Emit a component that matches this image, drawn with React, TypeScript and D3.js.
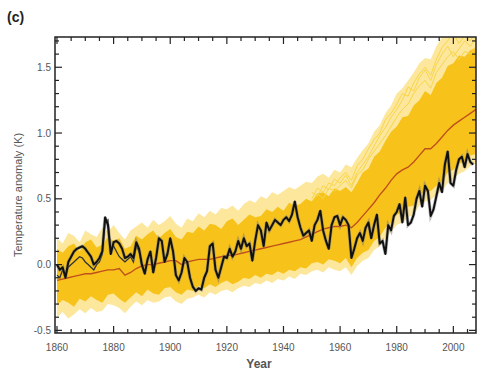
import { useEffect, useRef } from "react";
import * as d3 from "d3";

// observations, annual 1860-2007
const obsStart = 1860;
const obs = [
  0.0, -0.04, -0.02, -0.1, 0.02, 0.06, 0.1, 0.12, 0.13, 0.14,
  0.12, 0.09, 0.06, 0.0, 0.02, 0.05, 0.1, 0.36, 0.3, 0.08,
  0.17, 0.18, 0.16, 0.12, 0.05, 0.06, 0.08, 0.05, 0.17, 0.12,
  0.0, -0.07, 0.04, 0.1, -0.06, 0.05, 0.2, 0.18, 0.02, 0.08,
  0.2, 0.1, -0.08, -0.12, -0.06, 0.05, 0.02, -0.1, -0.17, -0.2,
  -0.18, -0.19, -0.1, -0.05, 0.14, 0.16, -0.04, -0.1, -0.02, 0.06,
  0.05, 0.12, 0.06, 0.1, 0.18, 0.12, 0.2, 0.14, 0.16, 0.03,
  0.18, 0.3, 0.26, 0.14, 0.32, 0.26, 0.3, 0.34, 0.32, 0.3,
  0.34, 0.36, 0.33, 0.38, 0.48, 0.36, 0.28, 0.22, 0.24, 0.26,
  0.18, 0.3, 0.34, 0.41, 0.26, 0.18, 0.12, 0.3, 0.36, 0.37,
  0.3, 0.36, 0.34, 0.3, 0.05, 0.12, 0.2, 0.24, 0.18, 0.28,
  0.32, 0.2, 0.3, 0.38, 0.16, 0.18, 0.08, 0.3, 0.26, 0.37,
  0.4, 0.46, 0.32, 0.51, 0.3, 0.32, 0.38, 0.5, 0.56, 0.44,
  0.6, 0.56, 0.37, 0.42, 0.52, 0.62, 0.55, 0.76, 0.86, 0.62,
  0.6, 0.72, 0.8, 0.82, 0.74, 0.84, 0.78, 0.76,
];

// second observational record, early part where it departs
const obs2 = [
  -0.08, -0.1, -0.04, -0.08, -0.02, 0.0, 0.02, 0.04, 0.06, 0.05,
  0.02, 0.0, -0.02, -0.04, 0.0, 0.02, 0.08, 0.32, 0.34, 0.12,
  0.14, 0.1, 0.06, 0.04, 0.02, 0.04, 0.06, 0.02, 0.14, 0.1,
  -0.02,
];

// model ensemble, every 2 years 1860-2008
const ensStart = 1860;
const ensStep = 2;
const ensMean = [
  -0.12, -0.11, -0.1, -0.09, -0.08, -0.07, -0.07, -0.06, -0.05, -0.04,
  -0.04, -0.03, -0.08, -0.06, -0.03, -0.01, 0.0, 0.0, 0.01, 0.02,
  0.03, 0.03, 0.0, 0.02, 0.03, 0.04, 0.04, 0.04, 0.05, 0.06,
  0.07, 0.07, 0.08, 0.09, 0.1, 0.11, 0.12, 0.13, 0.14, 0.15,
  0.16, 0.17, 0.18, 0.19, 0.21, 0.23, 0.25, 0.27, 0.28, 0.29,
  0.29, 0.3, 0.28, 0.32, 0.37, 0.42, 0.47, 0.53, 0.58, 0.64,
  0.69, 0.72, 0.74, 0.78, 0.83, 0.88, 0.88, 0.92, 0.97, 1.02,
  1.06, 1.09, 1.12, 1.15, 1.18,
];
const bandHigh = [
  0.12, 0.09, 0.14, 0.16, 0.1, 0.17, 0.19, 0.13, 0.15, 0.21,
  0.18, 0.2, 0.12, 0.14, 0.22, 0.19, 0.23, 0.26, 0.2, 0.24,
  0.27, 0.21, 0.19, 0.25, 0.24, 0.29, 0.26, 0.31, 0.3, 0.27,
  0.33, 0.35, 0.3, 0.34, 0.38, 0.36, 0.37, 0.42, 0.4, 0.44,
  0.41, 0.47, 0.45, 0.46, 0.5, 0.48, 0.54, 0.55, 0.52, 0.58,
  0.56, 0.59, 0.55, 0.62, 0.7, 0.73, 0.82, 0.86, 0.94, 1.01,
  1.05, 1.12, 1.13, 1.21, 1.25, 1.32, 1.29, 1.38, 1.42, 1.51,
  1.53, 1.59, 1.58, 1.63, 1.65,
];
const bandLow = [
  -0.31, -0.27, -0.29, -0.32, -0.26, -0.28, -0.24, -0.27, -0.29, -0.23,
  -0.22, -0.26, -0.29, -0.25, -0.21, -0.24, -0.19, -0.22, -0.23, -0.18,
  -0.17, -0.21, -0.23, -0.19, -0.2, -0.16, -0.18, -0.15, -0.17, -0.14,
  -0.12, -0.15, -0.13, -0.1, -0.11, -0.08, -0.1, -0.07, -0.08, -0.05,
  -0.07, -0.04, -0.05, -0.02, -0.03, 0.01, 0.02, 0.0, 0.04, 0.03,
  0.01, 0.05, -0.02, 0.05, 0.09, 0.11, 0.18, 0.21, 0.28, 0.32,
  0.38, 0.39, 0.44, 0.45, 0.53, 0.55, 0.56, 0.6, 0.63, 0.7,
  0.72, 0.77, 0.78, 0.83, 0.84,
];
const envHigh = [
  0.2, 0.16, 0.24, 0.22, 0.17, 0.26, 0.23, 0.21, 0.28, 0.25,
  0.3, 0.24, 0.19, 0.26, 0.29, 0.32, 0.28, 0.34, 0.3, 0.33,
  0.37, 0.31, 0.28, 0.35, 0.33, 0.39, 0.36, 0.41, 0.38, 0.43,
  0.42, 0.45, 0.41, 0.46, 0.49, 0.47, 0.52, 0.5, 0.55, 0.53,
  0.56, 0.59, 0.57, 0.6, 0.63, 0.62, 0.67, 0.69, 0.66, 0.72,
  0.7, 0.76, 0.74, 0.81, 0.87, 0.92, 1.01, 1.06, 1.15, 1.21,
  1.3, 1.34, 1.4, 1.46, 1.53, 1.57, 1.56, 1.66, 1.73, 1.8,
  1.84, 1.8, 1.85, 1.82, 1.86,
];
const envLow = [
  -0.4, -0.36, -0.41, -0.38, -0.34, -0.37, -0.33, -0.36, -0.35, -0.3,
  -0.31, -0.33, -0.37, -0.32, -0.28, -0.31, -0.27, -0.29, -0.28, -0.25,
  -0.24, -0.28, -0.3, -0.26, -0.25, -0.23, -0.25, -0.21, -0.23, -0.2,
  -0.19, -0.21, -0.18, -0.16, -0.17, -0.14, -0.15, -0.12, -0.14, -0.11,
  -0.12, -0.09, -0.11, -0.07, -0.08, -0.05, -0.04, -0.06, -0.02, -0.04,
  -0.05, -0.02, -0.08, -0.01, 0.03, 0.05, 0.11, 0.14, 0.2, 0.25,
  0.3, 0.32, 0.36, 0.38, 0.45, 0.48, 0.49, 0.53, 0.56, 0.62,
  0.65, 0.69, 0.71, 0.75, 0.77,
];

// a few single runs that stick out above the band, 1950-2008
const runStart = 1950;
const runA = [0.5, 0.58, 0.55, 0.62, 0.6, 0.66, 0.7, 0.64, 0.75, 0.8, 0.88, 0.95, 1.0, 1.1, 1.15, 1.22, 1.3, 1.28, 1.38, 1.45, 1.5, 1.44, 1.56, 1.65, 1.7, 1.76, 1.68, 1.74, 1.7, 1.78];
const runB = [0.55, 0.52, 0.6, 0.57, 0.65, 0.62, 0.68, 0.6, 0.7, 0.76, 0.82, 0.9, 0.98, 1.04, 1.12, 1.18, 1.25, 1.35, 1.32, 1.42, 1.48, 1.4, 1.52, 1.6, 1.66, 1.58, 1.64, 1.7, 1.66, 1.72];
const runC = [0.48, 0.54, 0.5, 0.58, 0.56, 0.6, 0.64, 0.58, 0.68, 0.72, 0.8, 0.86, 0.92, 0.98, 1.05, 1.12, 1.18, 1.22, 1.3, 1.36, 1.4, 1.34, 1.46, 1.52, 1.58, 1.62, 1.56, 1.62, 1.6, 1.65];

const xLabels = [1860, 1880, 1900, 1920, 1940, 1960, 1980, 2000];
const yLabels = [-0.5, 0.0, 0.5, 1.0, 1.5];

export default function App() {
  const svgRef = useRef<SVGSVGElement>(null);

  useEffect(() => {
    if (!svgRef.current) return;
    const svg = d3.select(svgRef.current);
    svg.selectAll("*").remove();

    const left = 55, right = 476, top = 37, bottom = 333;
    const x = d3.scaleLinear().domain([1859.3, 2008]).range([left, right]);
    const y = d3.scaleLinear().domain([-0.52, 1.73]).range([bottom, top]);

    svg.append("defs").append("clipPath").attr("id", "plotclip")
      .append("rect").attr("x", left).attr("y", top)
      .attr("width", right - left).attr("height", bottom - top);

    const g = svg.append("g").attr("clip-path", "url(#plotclip)");

    const ensYear = (i: number) => ensStart + i * ensStep;

    const envArea = d3.area<number>()
      .x((_, i) => x(ensYear(i)))
      .y0((_, i) => y(envLow[i]))
      .y1(d => y(d));
    g.append("path").attr("d", envArea(envHigh))
      .attr("fill", "#fbe38c").attr("opacity", 0.85);

    const bandArea = d3.area<number>()
      .x((_, i) => x(ensYear(i)))
      .y0((_, i) => y(bandLow[i]))
      .y1(d => y(d));
    g.append("path").attr("d", bandArea(bandHigh)).attr("fill", "#f7c31a");

    const runLine = d3.line<number>()
      .x((_, i) => x(runStart + i * 2))
      .y(d => y(d));
    [runA, runB, runC].forEach(r => {
      g.append("path").attr("d", runLine(r))
        .attr("fill", "none").attr("stroke", "#f8d54a").attr("stroke-width", 1);
    });

    const meanLine = d3.line<number>()
      .x((_, i) => x(ensYear(i)))
      .y(d => y(d));
    g.append("path").attr("d", meanLine(ensMean))
      .attr("fill", "none").attr("stroke", "#c0501c").attr("stroke-width", 1.4);

    const obsLine = d3.line<number>()
      .x((_, i) => x(obsStart + i))
      .y(d => y(d));
    g.append("path").attr("d", obsLine(obs2))
      .attr("fill", "none").attr("stroke", "#333").attr("stroke-width", 1.3);
    g.append("path").attr("d", obsLine(obs))
      .attr("fill", "none").attr("stroke", "#777").attr("stroke-width", 3.4).attr("opacity", 0.5);
    g.append("path").attr("d", obsLine(obs))
      .attr("fill", "none").attr("stroke", "#111").attr("stroke-width", 2)
      .attr("stroke-linejoin", "round");

    // frame
    svg.append("rect").attr("x", left).attr("y", top)
      .attr("width", right - left).attr("height", bottom - top)
      .attr("fill", "none").attr("stroke", "#222").attr("stroke-width", 1.5);

    const ax = svg.append("g").attr("stroke", "#222").attr("stroke-width", 1.2);
    d3.range(1860, 2009, 5).forEach(yr => {
      const len = yr % 20 === 0 ? 7 : 4;
      ax.append("line").attr("x1", x(yr)).attr("x2", x(yr)).attr("y1", bottom).attr("y2", bottom - len);
      ax.append("line").attr("x1", x(yr)).attr("x2", x(yr)).attr("y1", top).attr("y2", top + len);
    });
    d3.range(-5, 18).map(v => v / 10).forEach(v => {
      const len = Math.abs(Math.round(v * 10)) % 5 === 0 ? 7 : 4;
      ax.append("line").attr("x1", left).attr("x2", left + len).attr("y1", y(v)).attr("y2", y(v));
      ax.append("line").attr("x1", right).attr("x2", right - len).attr("y1", y(v)).attr("y2", y(v));
    });

    const font = "'Liberation Sans', Arial, sans-serif";
    svg.append("g").selectAll("text").data(xLabels).join("text")
      .attr("x", d => x(d)).attr("y", 351)
      .attr("text-anchor", "middle").attr("font-family", font)
      .attr("font-size", 10).attr("fill", "#555").text(d => d);
    svg.append("g").selectAll("text").data(yLabels).join("text")
      .attr("x", left - 4).attr("y", d => y(d) + 3.5)
      .attr("text-anchor", "end").attr("font-family", font)
      .attr("font-size", 10).attr("fill", "#555").text(d => d.toFixed(1));

    svg.append("text").attr("x", 259).attr("y", 368)
      .attr("text-anchor", "middle").attr("font-family", font)
      .attr("font-size", 12).attr("font-weight", "bold").attr("fill", "#555").text("Year");
    svg.append("text").attr("transform", "translate(22,195) rotate(-90)")
      .attr("text-anchor", "middle").attr("font-family", font)
      .attr("font-size", 11).attr("fill", "#555").text("Temperature anomaly (K)");
    svg.append("text").attr("x", 7).attr("y", 22)
      .attr("font-family", font).attr("font-size", 14)
      .attr("font-weight", "bold").attr("fill", "#222").text("(c)");
  }, []);

  return (
    <div style={{ position: "absolute", left: 0, top: 0 }}>
      <svg ref={svgRef} width={478} height={375} style={{ display: "block", background: "#fff" }} />
    </div>
  );
}
